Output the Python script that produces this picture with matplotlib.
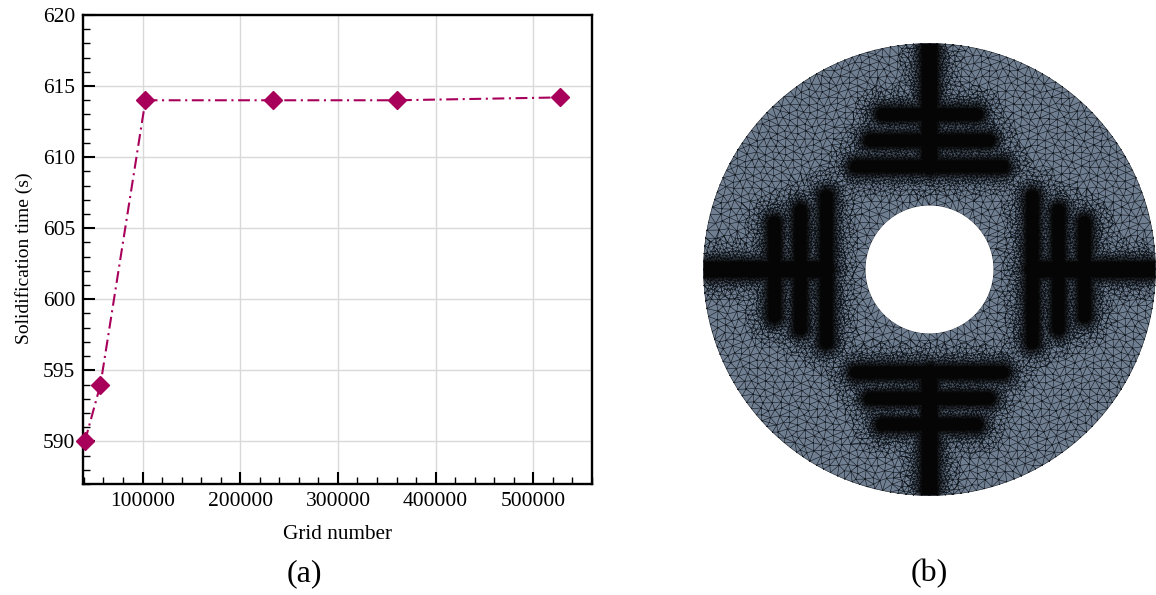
import numpy as np
import matplotlib
matplotlib.use("Agg")
import matplotlib.pyplot as plt
from matplotlib.ticker import MultipleLocator
from matplotlib.tri import Triangulation
from matplotlib.patches import Circle

plt.rcParams['font.family'] = ['Liberation Serif', 'DejaVu Serif']

grid_number = [41000, 57000, 103000, 233500, 360500, 527000]
solid_time = [590, 594, 614, 614, 614, 614.2]
x_label = "Grid number"
y_label = "Solidification time (s)"
W, H = 1156, 595

# annulus geometry (in picture pixels) of the mesh panel
CX, CY, R_OUT, R_IN = 929.5, 269.5, 226.0, 64.0
bar_radii = [155, 129, 103]
bar_half_len = [47, 59, 73]
spine_start = 103

fig = plt.figure(figsize=(W / 100, H / 100), dpi=100)
fig.patch.set_facecolor('white')


def box(l, t, r, b):
    return [l / W, 1 - b / H, (r - l) / W, (b - t) / H]


ax = fig.add_axes(box(83, 15, 592, 484))
line_color = '#A8005A'
ax.plot(grid_number, solid_time, color=line_color, lw=1.5,
        dashes=(5.7, 2.2, 1.0, 2.2), marker='D', ms=9.5, mfc=line_color, mec=line_color,
        clip_on=False, zorder=5)
ax.set_xlim(39100, 560000)
ax.set_ylim(587, 620)
ax.xaxis.set_major_locator(MultipleLocator(100000))
ax.xaxis.set_minor_locator(MultipleLocator(20000))
ax.yaxis.set_major_locator(MultipleLocator(5))
ax.yaxis.set_minor_locator(MultipleLocator(1))
ax.grid(True, which='major', color='#d9d9d9', lw=1.0)
ax.set_axisbelow(True)
ax.tick_params(which='major', direction='in', length=8.5, width=1.5, labelsize=15.5, pad=5.5)
ax.tick_params(which='minor', direction='in', length=5, width=1.0)
for s in ax.spines.values():
    s.set_linewidth(1.7)
ax.set_xlabel(x_label, fontsize=15.3, labelpad=10)
ax.set_ylabel(y_label, fontsize=14, labelpad=7.5, y=0.482)

fig.text(304 / W, 1 - 573.5 / H, "(a)", fontsize=23, ha='center', va='center')
fig.text(929 / W, 1 - 573.5 / H, "(b)", fontsize=23, ha='center', va='center')

# mesh panel: graded triangular mesh drawn in picture pixel coordinates
mx = fig.add_axes([0, 0, 1, 1], facecolor='none')
mx.set_xlim(0, W)
mx.set_ylim(H, 0)
mx.axis('off')

segs = []
for k in range(4):
    a = k * np.pi / 2
    u = np.array([np.cos(a), np.sin(a)])
    v = np.array([-u[1], u[0]])
    segs.append((u * spine_start, u * R_OUT, 9.0))
    for rb, hl in zip(bar_radii, bar_half_len):
        segs.append((u * rb - v * hl, u * rb + v * hl, 7.5))


def seg_dist(P):
    d = np.full(len(P), 1e9)
    for A, B, hw in segs:
        AB = B - A
        t = np.clip(((P - A) @ AB) / (AB @ AB), 0, 1)
        q = A + t[:, None] * AB
        d = np.minimum(d, np.hypot(*(P - q).T) - hw)
    return d


def lattice(h):
    xs = np.arange(-R_OUT - h, R_OUT + h, h)
    ys = np.arange(-R_OUT - h, R_OUT + h, h * np.sqrt(3) / 2)
    X, Y = np.meshgrid(xs, ys)
    X = X + (np.arange(len(ys))[:, None] % 2) * h / 2
    # small deterministic warp so the mesh looks unstructured
    X = X + 0.22 * h * np.sin(Y * 0.37 + X * 0.11)
    Y = Y + 0.22 * h * np.sin(X * 0.31 - Y * 0.13)
    return np.c_[X.ravel(), Y.ravel()]


pts = []
for h, reach in [(8.0, 1e9), (5.5, 22.0), (3.6, 11.0)]:
    P = lattice(h)
    r = np.hypot(*P.T)
    P = P[(r < R_OUT - h * 0.45) & (r > R_IN + h * 0.45)]
    P = P[seg_dist(P) < reach]
    pts.append(P)
for rad, n in [(R_OUT, 180), (R_IN, 56)]:
    th = np.linspace(0, 2 * np.pi, n, endpoint=False)
    pts.append(np.c_[rad * np.cos(th), rad * np.sin(th)])
pts = np.vstack(pts)
tri = Triangulation(pts[:, 0] + CX, pts[:, 1] + CY)
cen = pts[tri.triangles].mean(axis=1)
rc = np.hypot(*cen.T)
tri.set_mask((rc < R_IN) | (rc > R_OUT))

outer = Circle((CX, CY), R_OUT, fc='#6f7e90', ec='none', zorder=1)
mx.add_patch(outer)
mx.triplot(tri, color='#141a22', lw=0.42, zorder=3)

# soft dark cores of the refined zones, as an alpha field over the mesh
gx = np.arange(-R_OUT - 1, R_OUT + 2, 1.0)
GX, GY = np.meshgrid(gx, gx)
D = seg_dist(np.c_[GX.ravel(), GY.ravel()]).reshape(GX.shape)
alpha = np.clip(1 - (D + 2.0) / 11.0, 0, 1) ** 1.3
alpha[D < -2.0] = 1.0
rgba = np.zeros(GX.shape + (4,))
rgba[..., :3] = 0.02
rgba[..., 3] = alpha
im = mx.imshow(rgba, extent=(CX + gx[0] - .5, CX + gx[-1] + .5, CY + gx[-1] + .5, CY + gx[0] - .5),
               interpolation='bilinear', zorder=4, aspect='auto')
im.set_clip_path(outer)
mx.set_xlim(0, W)
mx.set_ylim(H, 0)
mx.add_patch(Circle((CX, CY), R_IN, fc='white', ec='none', zorder=5))

fig.savefig("out.png", dpi=100)
